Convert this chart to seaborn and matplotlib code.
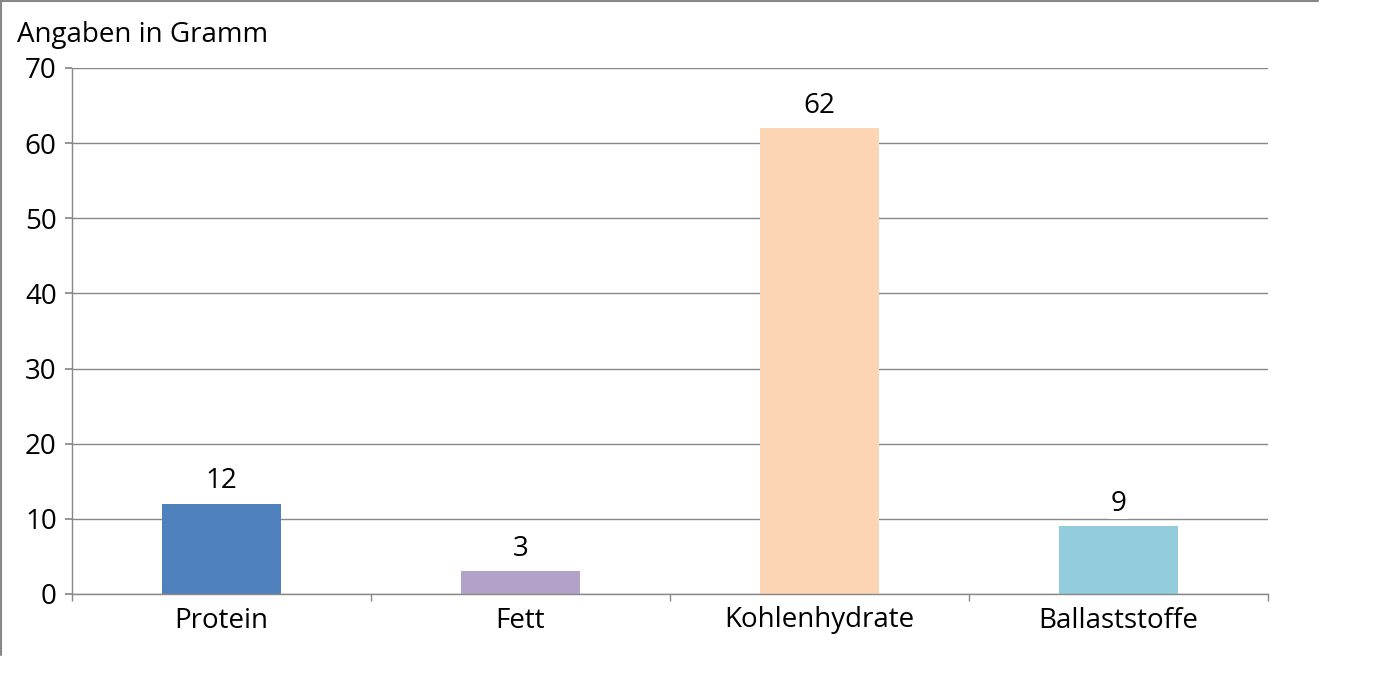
import seaborn as sns
import matplotlib.pyplot as plt
import pandas as pd
from matplotlib.lines import Line2D

# Nährwerte (Gramm)
kategorien = ["Protein", "Fett", "Kohlenhydrate", "Ballaststoffe"]
werte = [12, 3, 62, 9]
farben = ["#4F81BD", "#B3A2C7", "#FCD5B5", "#93CDDD"]
y_ticks = [0, 10, 20, 30, 40, 50, 60, 70]

sns.set_theme(style="white")
plt.rcParams['font.family'] = ['Open Sans', 'DejaVu Sans']
plt.rcParams['text.color'] = 'black'

df = pd.DataFrame({"kategorie": kategorien, "wert": werte})

W, H = 1384, 683
fig = plt.figure(figsize=(W / 100, H / 100), dpi=100)
ax = fig.add_axes([72 / W, 1 - 594 / H, (1268 - 72) / W, (594 - 68) / H])

sns.barplot(data=df, x="kategorie", y="wert", hue="kategorie", palette=farben,
            width=0.4, legend=False, saturation=1, linewidth=0, ax=ax)

grau = "#888888"
fs = 20
ax.set_ylim(0, 70)
ax.set_xlim(-0.5, len(kategorien) - 0.5)
ax.set_yticks(y_ticks)
ax.yaxis.grid(True, color=grau, linewidth=1)
ax.set_axisbelow(True)
ax.set_xlabel("")
ax.set_ylabel("")

for s in ["top", "right"]:
    ax.spines[s].set_visible(False)
for s in ["left", "bottom"]:
    ax.spines[s].set_color(grau)
    ax.spines[s].set_linewidth(1)

ax.tick_params(axis="y", left=True, length=5, color=grau, labelsize=fs, pad=6, labelcolor="black")
ax.tick_params(axis="x", which="major", length=0, labelsize=fs, pad=9, labelcolor="black")
ax.set_xticks([i - 0.5 for i in range(len(kategorien) + 1)], minor=True)
ax.tick_params(axis="x", which="minor", bottom=True, length=5, color=grau)

for cont in ax.containers:
    ax.bar_label(cont, fontsize=fs, padding=6, color="black",
                 bbox=dict(facecolor="white", edgecolor="none", pad=1))

fig.text(17 / W, 1 - 35 / H, "Angaben in Gramm", fontsize=fs, va="center", ha="left", color="black")

# Rahmen oben und links
fig.add_artist(Line2D([0, 1318 / W], [1 - 1 / H, 1 - 1 / H], color=grau, linewidth=1.5))
fig.add_artist(Line2D([1 / W, 1 / W], [1, 1 - 655 / H], color=grau, linewidth=1.5))

fig.savefig("out.png", dpi=100)
